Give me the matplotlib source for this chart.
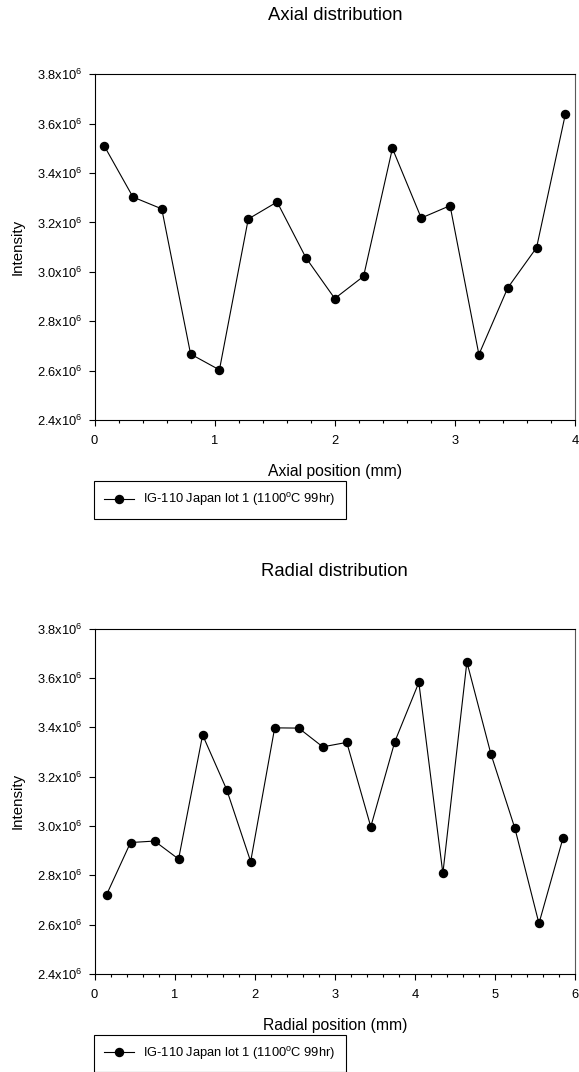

# Axial / radial intensity distribution (IG-110 Japan lot 1)

import matplotlib
matplotlib.use("Agg")
import matplotlib.pyplot as plt
from matplotlib.ticker import MultipleLocator, FuncFormatter

plt.rcParams['font.family'] = ['Liberation Sans', 'DejaVu Sans']
plt.rcParams['mathtext.fontset'] = 'custom'
plt.rcParams['mathtext.rm'] = 'Liberation Sans'
plt.rcParams['mathtext.it'] = 'Liberation Sans'

# data
axial_pos = [0.08, 0.32, 0.56, 0.80, 1.04, 1.28, 1.52, 1.76, 2.00, 2.24,
             2.48, 2.72, 2.96, 3.20, 3.44, 3.68, 3.92]
axial_int = [3.511e6, 3.303e6, 3.255e6, 2.667e6, 2.603e6, 3.214e6, 3.283e6,
             3.057e6, 2.892e6, 2.982e6, 3.500e6, 3.218e6, 3.268e6, 2.665e6,
             2.935e6, 3.098e6, 3.639e6]

radial_pos = [0.15, 0.45, 0.75, 1.05, 1.35, 1.65, 1.95, 2.25, 2.55, 2.85,
              3.15, 3.45, 3.75, 4.05, 4.35, 4.65, 4.95, 5.25, 5.55, 5.85]
radial_int = [2.721e6, 2.933e6, 2.939e6, 2.866e6, 3.369e6, 3.148e6, 2.856e6,
              3.398e6, 3.397e6, 3.321e6, 3.339e6, 2.997e6, 3.342e6, 3.582e6,
              2.808e6, 3.665e6, 3.292e6, 2.990e6, 2.605e6, 2.951e6]

series_label = "IG-110 Japan lot 1 (1100$^{o}$C 99hr)"
y_ticks = [2.4e6, 2.6e6, 2.8e6, 3.0e6, 3.2e6, 3.4e6, 3.6e6, 3.8e6]

W, H = 579, 1072
fig = plt.figure(figsize=(W / 100, H / 100), dpi=100)


def sci_fmt(v, pos):
    return f"{v / 1e6:.1f}x10$^6$"


def panel(rect, x, y, xmax, title, xlabel, title_y, leg_top):
    ax = fig.add_axes(rect)
    ax.plot(x, y, color='black', lw=0.8, marker='o', markersize=5.8,
            markerfacecolor='black', markeredgecolor='black', label=series_label)
    ax.set_xlim(0, xmax)
    ax.set_ylim(2.4e6, 3.8e6)
    ax.set_yticks(y_ticks)
    ax.yaxis.set_major_formatter(FuncFormatter(sci_fmt))
    ax.xaxis.set_major_locator(MultipleLocator(1))
    ax.xaxis.set_minor_locator(MultipleLocator(0.2))
    ax.tick_params(axis='y', which='major', direction='out', length=4,
                   width=0.8, labelsize=9.3, pad=5)
    ax.tick_params(axis='x', which='major', direction='out', length=4,
                   width=0.8, labelsize=9.3, pad=7)
    ax.tick_params(axis='x', which='minor', direction='out', length=2.5, width=0.8)
    for s in ax.spines.values():
        s.set_linewidth(0.8)
    ax.spines['right'].set_color('0.35')
    ax.set_xlabel(xlabel, fontsize=11.3, labelpad=12)
    ax.set_ylabel("Intensity", fontsize=10.8, labelpad=8.5)

    fig.text(0.5 * (rect[0] * 2 + rect[2]), 1 - title_y / H, title,
             ha='center', va='center', fontsize=13.3)

    ax.legend(loc='upper left', bbox_to_anchor=(94 / W, 1 - leg_top / H),
              bbox_transform=fig.transFigure, borderaxespad=0, frameon=True,
              fancybox=False, edgecolor='black', framealpha=1, fontsize=9.3,
              handlelength=2.3, handletextpad=0.7, borderpad=0.8)
    ax.get_legend().get_frame().set_linewidth(0.8)
    return ax


left = 94.5 / W
width = (575 - 94.5) / W
top_rect = [left, 1 - 420 / H, width, (420 - 74.3) / H]
bot_rect = [left, 1 - 974 / H, width, (974 - 628.7) / H]

panel(top_rect, axial_pos, axial_int, 4, "Axial distribution",
      "Axial position (mm)", 16, 481)
panel(bot_rect, radial_pos, radial_int, 6, "Radial distribution",
      "Radial position (mm)", 572, 1034.5)

fig.savefig("out.png", dpi=100)
